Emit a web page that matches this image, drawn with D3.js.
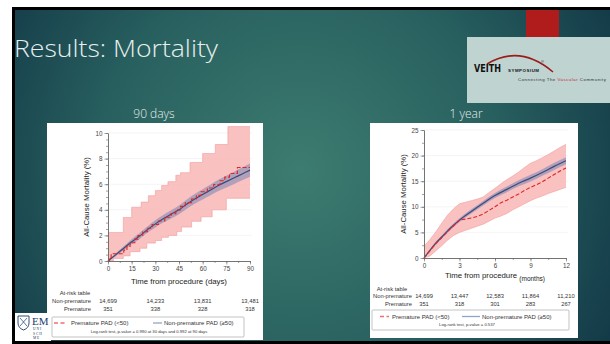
<!DOCTYPE html>
<html>
<head>
<meta charset="utf-8">
<script src="https://cdn.jsdelivr.net/npm/d3@7"></script>
<style>
  body { margin: 0; background: #fff; overflow: hidden; }
  svg { display: block; }
</style>
</head>
<body>
<div id="app"></div>
<script>
// ---------- 90 days panel ----------
const d90XTicks = [0, 15, 30, 45, 60, 75, 90];
const d90YTicks = [0, 2, 4, 6, 8, 10];
const d90BlueX = [0, 5, 10, 15, 20, 25, 30, 35, 40, 45, 50, 55, 60, 65, 70, 75, 80, 85, 90];
const d90Blue = [0, 0.5, 1.0, 1.5, 1.95, 2.45, 2.9, 3.3, 3.65, 4.0, 4.45, 4.85, 5.2, 5.55, 5.9, 6.2, 6.5, 6.8, 7.1];
const d90BlueLo = [0, 0.38, 0.84, 1.3, 1.72, 2.2, 2.62, 3.0, 3.33, 3.66, 4.09, 4.47, 4.8, 5.13, 5.46, 5.74, 6.02, 6.3, 6.58];
const d90BlueHi = [0, 0.62, 1.16, 1.7, 2.18, 2.7, 3.18, 3.6, 3.97, 4.34, 4.81, 5.23, 5.6, 5.97, 6.34, 6.66, 6.98, 7.3, 7.62];
const d90RedX = [0, 1, 2, 10, 12, 14, 17, 19, 22, 25, 28, 32, 36, 40, 43, 46, 49, 53, 56, 59, 63, 67, 71, 74, 77, 82, 90];
const d90Red = [0, 0.28, 0.57, 0.85, 1.14, 1.42, 1.71, 1.99, 2.28, 2.56, 2.85, 3.13, 3.42, 3.70, 3.99, 4.27, 4.56, 4.84, 5.13, 5.41, 5.70, 5.98, 6.27, 6.55, 6.84, 7.3, 7.3];
const d90UpX = [0, 9.7, 15, 21, 25.6, 30, 34, 38, 43, 46, 52, 60, 68, 76, 90];
const d90Up = [2.23, 3.4, 4.2, 4.6, 5.1, 5.5, 5.9, 6.2, 6.7, 6.9, 7.7, 8.4, 9.1, 10.5, 10.5];
const d90LoX = [0, 3.4, 9.7, 14, 20.3, 24.6, 30, 34, 38.3, 43.6, 46.6, 53, 59, 66, 75, 90];
const d90Lo = [0, 0.2, 0.4, 0.73, 1.0, 1.4, 1.6, 1.85, 2.0, 2.3, 2.65, 3.1, 3.45, 4.0, 4.9, 4.9];
const d90RiskX = [0, 30, 60, 90];
const d90RiskNon = ["14,699", "14,233", "13,831", "13,481"];
const d90RiskPre = ["351", "338", "328", "318"];

// ---------- 1 year panel ----------
const y1XTicks = [0, 3, 6, 9, 12];
const y1YTicks = [0, 5, 10, 15, 20, 25];
const y1BlueX = [0, 0.5, 1, 1.5, 2, 2.5, 3, 4, 5, 6, 7, 8, 9, 10, 11, 12];
const y1Blue = [0, 1.5, 2.9, 4.1, 5.3, 6.4, 7.4, 9.1, 10.7, 12.2, 13.4, 14.6, 15.6, 16.7, 17.9, 19.0];
const y1BlueLo = [0, 1.3, 2.6, 3.8, 4.95, 6.05, 7.05, 8.7, 10.25, 11.7, 12.85, 14.0, 14.95, 16.05, 17.2, 18.3];
const y1BlueHi = [0, 1.7, 3.2, 4.4, 5.65, 6.75, 7.75, 9.5, 11.15, 12.7, 13.95, 15.2, 16.25, 17.35, 18.6, 19.7];
const y1RedX = [0, 0.5, 1, 1.5, 2, 2.5, 3, 3.5, 4, 4.5, 5, 5.5, 6, 6.5, 7, 7.5, 8, 8.5, 9, 9.5, 10, 10.5, 11, 11.5, 12];
const y1Red = [0, 1.4, 2.8, 4.0, 5.2, 6.3, 7.4, 7.6, 7.8, 8.1, 8.6, 9.3, 10.0, 10.8, 11.3, 11.9, 12.5, 13.2, 13.8, 14.3, 14.9, 15.6, 16.3, 17.0, 17.6];
const y1Up = [2.3, 3.6, 5.1, 6.8, 8.4, 9.6, 10.6, 10.9, 11.2, 11.5, 11.9, 12.8, 13.6, 14.5, 15.3, 16.0, 16.8, 17.7, 18.5, 19.0, 19.6, 20.2, 20.9, 21.6, 22.2];
const y1Lo = [0, 0.4, 1.4, 2.4, 3.5, 4.4, 5.0, 5.4, 5.8, 6.2, 6.6, 7.2, 7.8, 8.2, 8.7, 9.4, 10.0, 10.6, 11.2, 11.7, 12.1, 12.6, 13.0, 13.4, 13.8];
const y1RiskX = [0, 3, 6, 9, 12];
const y1RiskNon = ["14,699", "13,447", "12,583", "11,864", "11,210"];
const y1RiskPre = ["351", "318", "301", "283", "267"];

const W = 610, H = 344;
const chartFont = "'Liberation Sans', Arial, sans-serif";

const svg = d3.select("#app").append("svg").attr("width", W).attr("height", H);
const defs = svg.append("defs");

const grad = defs.append("radialGradient").attr("id", "bg")
  .attr("gradientUnits", "userSpaceOnUse")
  .attr("cx", 300).attr("cy", 170).attr("r", 360);
grad.append("stop").attr("offset", "0%").attr("stop-color", "#3d7c70");
grad.append("stop").attr("offset", "55%").attr("stop-color", "#28605f");
grad.append("stop").attr("offset", "100%").attr("stop-color", "#123847");

// slide frame
svg.append("rect").attr("x", 12).attr("y", 7).attr("width", W - 12).attr("height", H - 7).attr("fill", "#000");
svg.append("rect").attr("x", 15).attr("y", 10).attr("width", W - 15).attr("height", 331).attr("fill", "url(#bg)");

// red tab + logo box
svg.append("rect").attr("x", 526).attr("y", 10).attr("width", 33).attr("height", 28).attr("fill", "#b01c1c");
svg.append("rect").attr("x", 467).attr("y", 37).attr("width", 143).attr("height", 66).attr("fill", "#bfd4d1");
svg.append("path").attr("d", "M487,64 Q520,44 553,72").attr("fill", "none").attr("stroke", "#9c1b1b").attr("stroke-width", 1.6);
svg.append("text").attr("x", 474).attr("y", 72).attr("font-family", "'DejaVu Sans Condensed', 'DejaVu Sans', sans-serif")
  .attr("font-weight", "bold").attr("font-size", 10.5).attr("fill", "#111").attr("textLength", 27).attr("lengthAdjust", "spacingAndGlyphs").text("VEITH");
svg.append("text").attr("x", 508).attr("y", 72).attr("font-family", chartFont).attr("font-weight", "bold")
  .attr("font-size", 4.4).attr("fill", "#111").attr("textLength", 31).text("SYMPOSIUM");
svg.append("text").attr("x", 541).attr("y", 63).attr("font-family", chartFont).attr("font-size", 4).attr("fill", "#111").text("®");
const tag = svg.append("text").attr("x", 518).attr("y", 80.5).attr("font-family", chartFont).attr("font-size", 4.4).attr("fill", "#333")
  .attr("textLength", 88);
tag.append("tspan").text("Connecting The ");
tag.append("tspan").attr("fill", "#c0272d").text("Vascular");
tag.append("tspan").text(" Community");

// title
svg.append("text").attr("x", 14).attr("y", 57)
  .attr("font-family", "'Open Sans', Lato, sans-serif").attr("font-weight", 300)
  .attr("font-size", 23).attr("fill", "#e6efed")
  .attr("textLength", 204).attr("lengthAdjust", "spacingAndGlyphs")
  .text("Results: Mortality");

svg.append("text").attr("x", 154).attr("y", 118).attr("text-anchor", "middle")
  .attr("font-family", "'Open Sans', Lato, sans-serif").attr("font-weight", 300)
  .attr("font-size", 12).attr("fill", "#e6efed").text("90 days");
svg.append("text").attr("x", 466).attr("y", 118).attr("text-anchor", "middle")
  .attr("font-family", "'Open Sans', Lato, sans-serif").attr("font-weight", 300)
  .attr("font-size", 12).attr("fill", "#e6efed").text("1 year");

// merge two step series onto one x grid for an area
const stepAt = (xs, ys, x) => {
  let v = ys[0];
  xs.forEach((xx, i) => { if (xx <= x) v = ys[i]; });
  return v;
};

const drawPanel = (cfg) => {
  const g = svg.append("g");
  g.append("rect").attr("x", cfg.box[0]).attr("y", cfg.box[1]).attr("width", cfg.box[2]).attr("height", cfg.box[3]).attr("fill", "#fff");

  const x = d3.scaleLinear().domain(cfg.xDomain).range(cfg.xRange);
  const y = d3.scaleLinear().domain(cfg.yDomain).range(cfg.yRange);

  // grid
  g.selectAll(".grid").data(cfg.yTicks.slice(1)).enter().append("line")
    .attr("x1", x(cfg.xDomain[0])).attr("x2", x(cfg.xDomain[1]) + 2)
    .attr("y1", (d) => y(d)).attr("y2", (d) => y(d))
    .attr("stroke", "#ececec").attr("stroke-width", 0.6);

  // red CI band
  const band = cfg.band;
  g.append("path").datum(band)
    .attr("d", d3.area().curve(cfg.bandCurve).x((d) => x(d.x)).y0((d) => y(d.lo)).y1((d) => y(d.hi)))
    .attr("fill", "#f9b6b6").attr("fill-opacity", 0.85);
  ["hi", "lo"].forEach((k) => {
    g.append("path").datum(band)
      .attr("d", d3.line().curve(cfg.bandCurve).x((d) => x(d.x)).y((d) => y(d[k])))
      .attr("fill", "none").attr("stroke", "#f29a9a").attr("stroke-width", 0.6);
  });

  // blue CI band + line
  const blue = cfg.blueX.map((v, i) => ({ x: v, y: cfg.blue[i], lo: cfg.blueLo[i], hi: cfg.blueHi[i] }));
  g.append("path").datum(blue)
    .attr("d", d3.area().curve(d3.curveMonotoneX).x((d) => x(d.x)).y0((d) => y(d.lo)).y1((d) => y(d.hi)))
    .attr("fill", "#9a93b6").attr("fill-opacity", 0.75);
  g.append("path").datum(blue)
    .attr("d", d3.line().curve(d3.curveMonotoneX).x((d) => x(d.x)).y((d) => y(d.y)))
    .attr("fill", "none").attr("stroke", "#3a4c7c").attr("stroke-width", 1.2);

  // red KM line
  const red = cfg.redX.map((v, i) => ({ x: v, y: cfg.red[i] }));
  g.append("path").datum(red)
    .attr("d", d3.line().curve(cfg.redCurve).x((d) => x(d.x)).y((d) => y(d.y)))
    .attr("fill", "none").attr("stroke", "#e02525").attr("stroke-width", 1.1).attr("stroke-dasharray", "4,2");

  // axes
  const axStyle = (sel) => {
    sel.select(".domain").attr("stroke", "#666").attr("stroke-width", 0.7);
    sel.selectAll(".tick line").attr("stroke", "#666").attr("stroke-width", 0.6);
    sel.selectAll("text").attr("font-family", chartFont).attr("font-size", 6.3).attr("fill", "#444");
  };
  const y0 = y(cfg.yDomain[0]);
  const x0 = x(cfg.xDomain[0]);
  g.append("g").attr("transform", `translate(0,${y0})`)
    .call(d3.axisBottom(x).tickValues(cfg.xMinor).tickFormat("").tickSize(2).tickSizeOuter(0)).call(axStyle);
  g.append("g").attr("transform", `translate(0,${y0})`)
    .call(d3.axisBottom(x).tickValues(cfg.xTicks).tickSize(3.5).tickPadding(2).tickSizeOuter(0)).call(axStyle);
  g.append("g").attr("transform", `translate(${x0},0)`)
    .call(d3.axisLeft(y).tickValues(cfg.yMinor).tickFormat("").tickSize(2).tickSizeOuter(0)).call(axStyle);
  g.append("g").attr("transform", `translate(${x0},0)`)
    .call(d3.axisLeft(y).tickValues(cfg.yTicks).tickSize(3.5).tickPadding(2).tickSizeOuter(0)).call(axStyle);

  // axis titles
  g.append("text").attr("transform", `translate(${cfg.yLabelX},${(y0 + y(cfg.yDomain[1])) / 2}) rotate(-90)`)
    .attr("text-anchor", "middle").attr("font-family", chartFont).attr("font-size", 7.8).attr("fill", "#222")
    .text("All-Cause Mortality (%)");
  const xt = g.append("text").attr("x", cfg.xLabelX).attr("y", cfg.xLabelY)
    .attr("text-anchor", "middle").attr("font-family", chartFont).attr("font-size", 7.8).attr("fill", "#222");
  xt.append("tspan").text("Time from procedure ");
  xt.append("tspan").attr("font-size", cfg.unitSize).attr("dy", cfg.unitDy).text(cfg.unit);

  // at-risk table
  const t = cfg.table;
  const tf = (sel) => sel.attr("font-family", chartFont).attr("font-size", 5.8).attr("fill", "#333");
  g.append("text").attr("x", t.headX).attr("y", t.rows[0]).attr("text-anchor", "middle").call(tf).text("At-risk table");
  g.append("text").attr("x", t.nameX).attr("y", t.rows[1]).attr("text-anchor", "end").call(tf).text("Non-premature");
  g.append("text").attr("x", t.nameX).attr("y", t.rows[2]).attr("text-anchor", "end").call(tf).text("Premature");
  g.selectAll(".rn").data(cfg.riskNon).enter().append("text")
    .attr("x", (d, i) => x(cfg.riskX[i])).attr("y", t.rows[1]).attr("text-anchor", "middle").call(tf).text((d) => d);
  g.selectAll(".rp").data(cfg.riskPre).enter().append("text")
    .attr("x", (d, i) => x(cfg.riskX[i])).attr("y", t.rows[2]).attr("text-anchor", "middle").call(tf).text((d) => d);

  // legend
  const L = cfg.legend;
  g.append("rect").attr("x", L.box[0]).attr("y", L.box[1]).attr("width", L.box[2]).attr("height", L.box[3])
    .attr("fill", "#fff").attr("stroke", "#9a9a9a").attr("stroke-width", 0.6).attr("rx", 1);
  g.append("line").attr("x1", L.red[0]).attr("x2", L.red[1]).attr("y1", L.lineY).attr("y2", L.lineY)
    .attr("stroke", "#f07070").attr("stroke-width", 1.3).attr("stroke-dasharray", "4,2.5");
  g.append("text").attr("x", L.redText).attr("y", L.lineY + 2).call(tf).attr("font-size", 6).text("Premature PAD (<50)");
  g.append("line").attr("x1", L.blue[0]).attr("x2", L.blue[1]).attr("y1", L.lineY).attr("y2", L.lineY)
    .attr("stroke", "#8ea6c6").attr("stroke-width", 1.3);
  g.append("text").attr("x", L.blueText).attr("y", L.lineY + 2).call(tf).attr("font-size", 6).text("Non-premature PAD (≥50)");
  g.append("text").attr("x", L.noteX).attr("y", L.noteY).attr("text-anchor", "middle").call(tf)
    .attr("font-size", 4.2).text(L.note);
};

const bandGrid = (xsA, xsB) => Array.from(new Set(xsA.concat(xsB))).sort((a, b) => a - b);

const d90Grid = bandGrid(d90UpX, d90LoX);
drawPanel({
  box: [47, 123, 216, 217],
  xDomain: [0, 90], xRange: [108, 250],
  yDomain: [0, 10], yRange: [261, 133],
  xTicks: d90XTicks, xMinor: d3.range(0, 90.1, 7.5),
  yTicks: d90YTicks, yMinor: d3.range(0, 10.1, 0.5),
  band: d90Grid.map((v) => ({ x: v, lo: stepAt(d90LoX, d90Lo, v), hi: stepAt(d90UpX, d90Up, v) })),
  bandCurve: d3.curveStepAfter,
  blueX: d90BlueX, blue: d90Blue, blueLo: d90BlueLo, blueHi: d90BlueHi,
  redX: d90RedX, red: d90Red, redCurve: d3.curveStepAfter,
  yLabelX: 89, xLabelX: 179, xLabelY: 284, unit: "(days)", unitSize: 7.8, unitDy: 0,
  table: { headX: 75, nameX: 91, rows: [295, 303, 310.5] },
  riskX: d90RiskX, riskNon: d90RiskNon, riskPre: d90RiskPre,
  legend: {
    box: [52, 317, 192, 20], lineY: 323, red: [54, 66], redText: 71, blue: [153, 162], blueText: 164,
    noteX: 149, noteY: 333, note: "Log-rank test, p-value = 0.990 at 30 days and 0.992 at 90 days"
  }
});

drawPanel({
  box: [370, 123, 208, 215],
  xDomain: [0, 12], xRange: [424, 566],
  yDomain: [0, 25], yRange: [258, 130],
  xTicks: y1XTicks, xMinor: d3.range(0, 12.1, 1.5),
  yTicks: y1YTicks, yMinor: d3.range(0, 25.1, 2.5),
  band: y1RedX.map((v, i) => ({ x: v, lo: y1Lo[i], hi: y1Up[i] })),
  bandCurve: d3.curveLinear,
  blueX: y1BlueX, blue: y1Blue, blueLo: y1BlueLo, blueHi: y1BlueHi,
  redX: y1RedX, red: y1Red, redCurve: d3.curveLinear,
  yLabelX: 406, xLabelX: 495, xLabelY: 278, unit: "(months)", unitSize: 6.5, unitDy: 2.5,
  table: { headX: 392, nameX: 412, rows: [291, 298, 306] },
  riskX: y1RiskX, riskNon: y1RiskNon, riskPre: y1RiskPre,
  legend: {
    box: [372, 310, 197, 20], lineY: 316.5, red: [380, 389], redText: 392, blue: [462, 480], blueText: 482,
    noteX: 467, noteY: 326, note: "Log-rank test, p-value = 0.537"
  }
});

// Emory logo (bottom-left, partly over the panel)
const em = svg.append("g");
em.append("rect").attr("x", 15).attr("y", 313).attr("width", 36).attr("height", 28).attr("fill", "#fff");
em.append("path").attr("d", "M18,316 L29,316 L29,323 Q29,328 23.5,330 Q18,328 18,323 Z")
  .attr("fill", "none").attr("stroke", "#1b3a6b").attr("stroke-width", 0.9);
em.append("path").attr("d", "M20,318 L27,326 M27,318 L20,326").attr("stroke", "#1b3a6b").attr("stroke-width", 0.7);
em.append("text").attr("x", 32).attr("y", 325).attr("font-family", "'Liberation Serif', serif").attr("font-size", 11).attr("fill", "#1b3a6b").text("EM");
["U N I", "S C H", "M E"].forEach((s, i) => {
  em.append("text").attr("x", 33).attr("y", 330 + i * 4.5).attr("font-family", "'Liberation Serif', serif")
    .attr("font-size", 3.6).attr("fill", "#1b3a6b").text(s);
});
</script>
</body>
</html>
